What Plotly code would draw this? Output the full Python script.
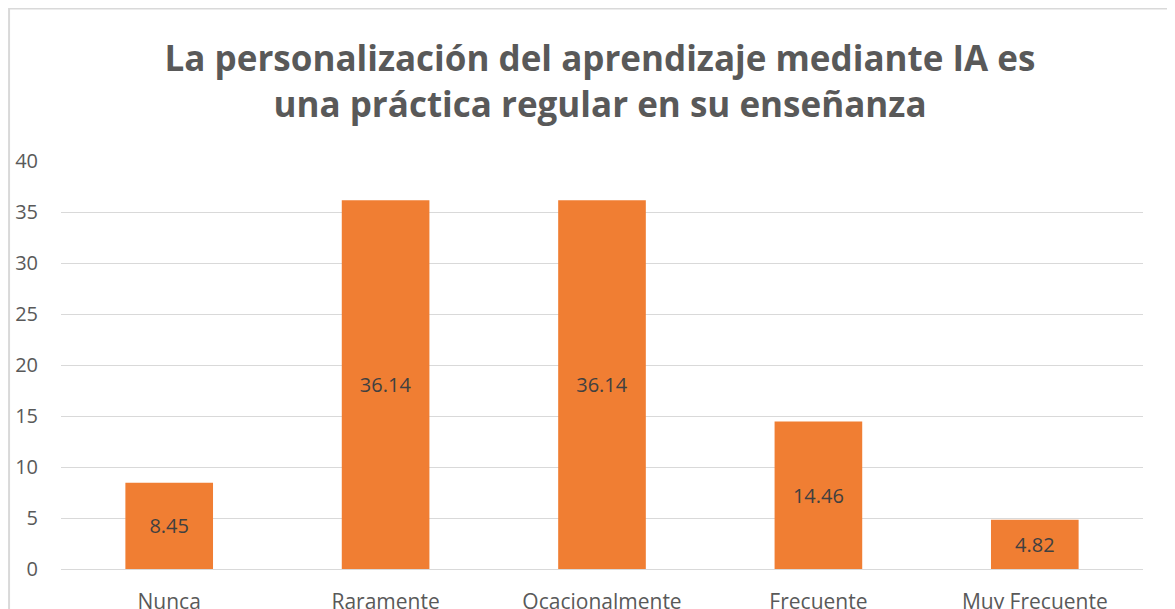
import plotly.graph_objects as go

categories = ["Nunca", "Raramente", "Ocacionalmente", "Frecuente", "Muy Frecuente"]
values = [8.45, 36.14, 36.14, 14.46, 4.82]
value_labels = ["8.45", "36.14", "36.14", "14.46", "4.82"]
y_ticks = [0, 5, 10, 15, 20, 25, 30, 35, 40]

title_text = "La personalización del aprendizaje mediante IA es<br>una práctica regular en su enseñanza"

FONT = "Open Sans"

fig = go.Figure(
    go.Bar(
        x=categories,
        y=values,
        text=value_labels,
        textposition="inside",
        insidetextanchor="middle",
        textangle=0,
        textfont=dict(family=FONT, size=20, color="#404040"),
        marker=dict(color="#F07E33", line=dict(width=0)),
        width=0.405,
        hoverinfo="skip",
    )
)

fig.update_layout(
    width=1175,
    height=609,
    paper_bgcolor="white",
    plot_bgcolor="white",
    margin=dict(l=53, r=40, t=153, b=48, autoexpand=False),
    showlegend=False,
    title=dict(
        text=title_text,
        x=592 / 1175,
        xref="container",
        xanchor="center",
        y=1 - 63 / 609,
        yref="container",
        yanchor="middle",
        automargin=False,
        font=dict(family=FONT, size=35, color="#595959", weight="bold"),
    ),
    font=dict(family=FONT, color="#595959"),
    xaxis=dict(
        showgrid=False,
        showline=False,
        zeroline=False,
        ticks="",
        automargin=False,
        tickfont=dict(family=FONT, size=21, color="#595959"),
        ticklabelstandoff=18,
    ),
    yaxis=dict(
        range=[0, 40],
        tickvals=y_ticks,
        showgrid=True,
        gridcolor="#D9D9D9",
        gridwidth=1,
        zeroline=True,
        zerolinecolor="#D9D9D9",
        zerolinewidth=1,
        showline=False,
        ticks="",
        automargin=False,
        tickfont=dict(family=FONT, size=20, color="#595959"),
        ticklabelstandoff=22,
    ),
    shapes=[
        dict(
            type="rect",
            xref="paper", yref="paper",
            x0=-0.048, x1=1.1,
            y0=-0.3, y1=1.3738,
            line=dict(color="#D9D9D9", width=2),
            fillcolor="rgba(0,0,0,0)",
            layer="below",
        )
    ],
)

fig.write_html("out.html")
